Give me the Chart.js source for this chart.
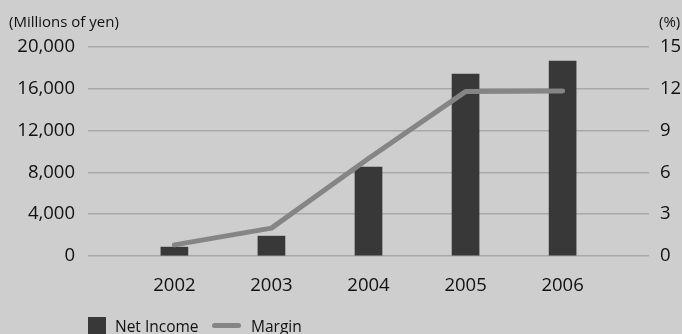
<!DOCTYPE html>
<html>
<head>
<meta charset="utf-8">
<script src="https://cdn.jsdelivr.net/npm/chart.js@4/dist/chart.umd.min.js"></script>
<style>
  html, body { margin: 0; padding: 0; background: #cecece; }
  #wrap { position: relative; width: 682px; height: 334px; overflow: hidden; font-family: "Open Sans", "Noto Sans", sans-serif; color: #111; }
  canvas { position: absolute; left: 0; top: 0; }
  .t { position: absolute; font-size: 15px; white-space: nowrap; }
  .lg { position: absolute; font-size: 15.5px; white-space: nowrap; }
</style>
</head>
<body>
<div id="wrap">
  <canvas id="c" width="682" height="334"></canvas>
  <div class="t" style="left:9px; top:11px;">(Millions of yen)</div>
  <div class="t" style="left:659px; top:11px;">(%)</div>
  <div style="position:absolute; left:88px; top:317px; width:18px; height:18px; background:#383838;"></div>
  <div class="lg" style="left:115px; top:315px;">Net Income</div>
  <div style="position:absolute; left:212px; top:323px; width:29px; height:5px; border-radius:3px; background:#858585;"></div>
  <div class="lg" style="left:251px; top:315px;">Margin</div>
</div>
<script>
// values
const years = [2002, 2003, 2004, 2005, 2006];
const netIncome = [850, 1900, 8500, 17400, 18650];
const margin = [0.8, 2.0, 7.0, 11.8, 11.85];
const leftTicks = [0, 4000, 8000, 12000, 16000, 20000];
const rightTicks = [0, 3, 6, 9, 12, 15];

const font = { family: '"Open Sans", "Noto Sans", sans-serif', size: 18.5 };

new Chart(document.getElementById('c'), {
  data: {
    datasets: [
      {
        type: 'line',
        label: 'Margin',
        data: years.map((y, i) => ({ x: y, y: margin[i] })),
        yAxisID: 'y2',
        borderColor: '#858585',
        borderWidth: 5,
        borderCapStyle: 'round',
        borderJoinStyle: 'round',
        pointRadius: 0,
        tension: 0,
        order: 0
      },
      {
        type: 'bar',
        label: 'Net Income',
        data: years.map((y, i) => ({ x: y, y: netIncome[i] })),
        yAxisID: 'y',
        backgroundColor: '#383838',
        barThickness: 27,
        order: 1
      }
    ]
  },
  options: {
    responsive: false,
    animation: false,
    layout: { padding: { top: 47, left: 0, right: 0, bottom: 0 } },
    plugins: { legend: { display: false }, tooltip: { enabled: false } },
    scales: {
      x: {
        type: 'linear',
        offset: false,
        min: 2001.11,
        max: 2006.89,
        afterBuildTicks: s => { s.ticks = years.map(v => ({ value: v })); },
        afterFit: s => { s.height = 78; },
        grid: { display: false },
        border: { display: false },
        ticks: { color: '#111', font, padding: 11, callback: v => String(v) }
      },
      y: {
        position: 'left',
        min: 0,
        max: 20000,
        afterBuildTicks: s => { s.ticks = leftTicks.map(v => ({ value: v })); },
        afterFit: s => { s.width = 88; },
        grid: { color: '#a8a8a8', lineWidth: 1.5, drawTicks: false },
        border: { display: false },
        ticks: { color: '#111', font, padding: 13, callback: v => v.toLocaleString('en-US') }
      },
      y2: {
        position: 'right',
        min: 0,
        max: 15,
        afterBuildTicks: s => { s.ticks = rightTicks.map(v => ({ value: v })); },
        afterFit: s => { s.width = 33; },
        grid: { display: false, drawTicks: false },
        border: { display: false },
        ticks: { color: '#111', font, padding: 11 }
      }
    }
  }
});
</script>
</body>
</html>
